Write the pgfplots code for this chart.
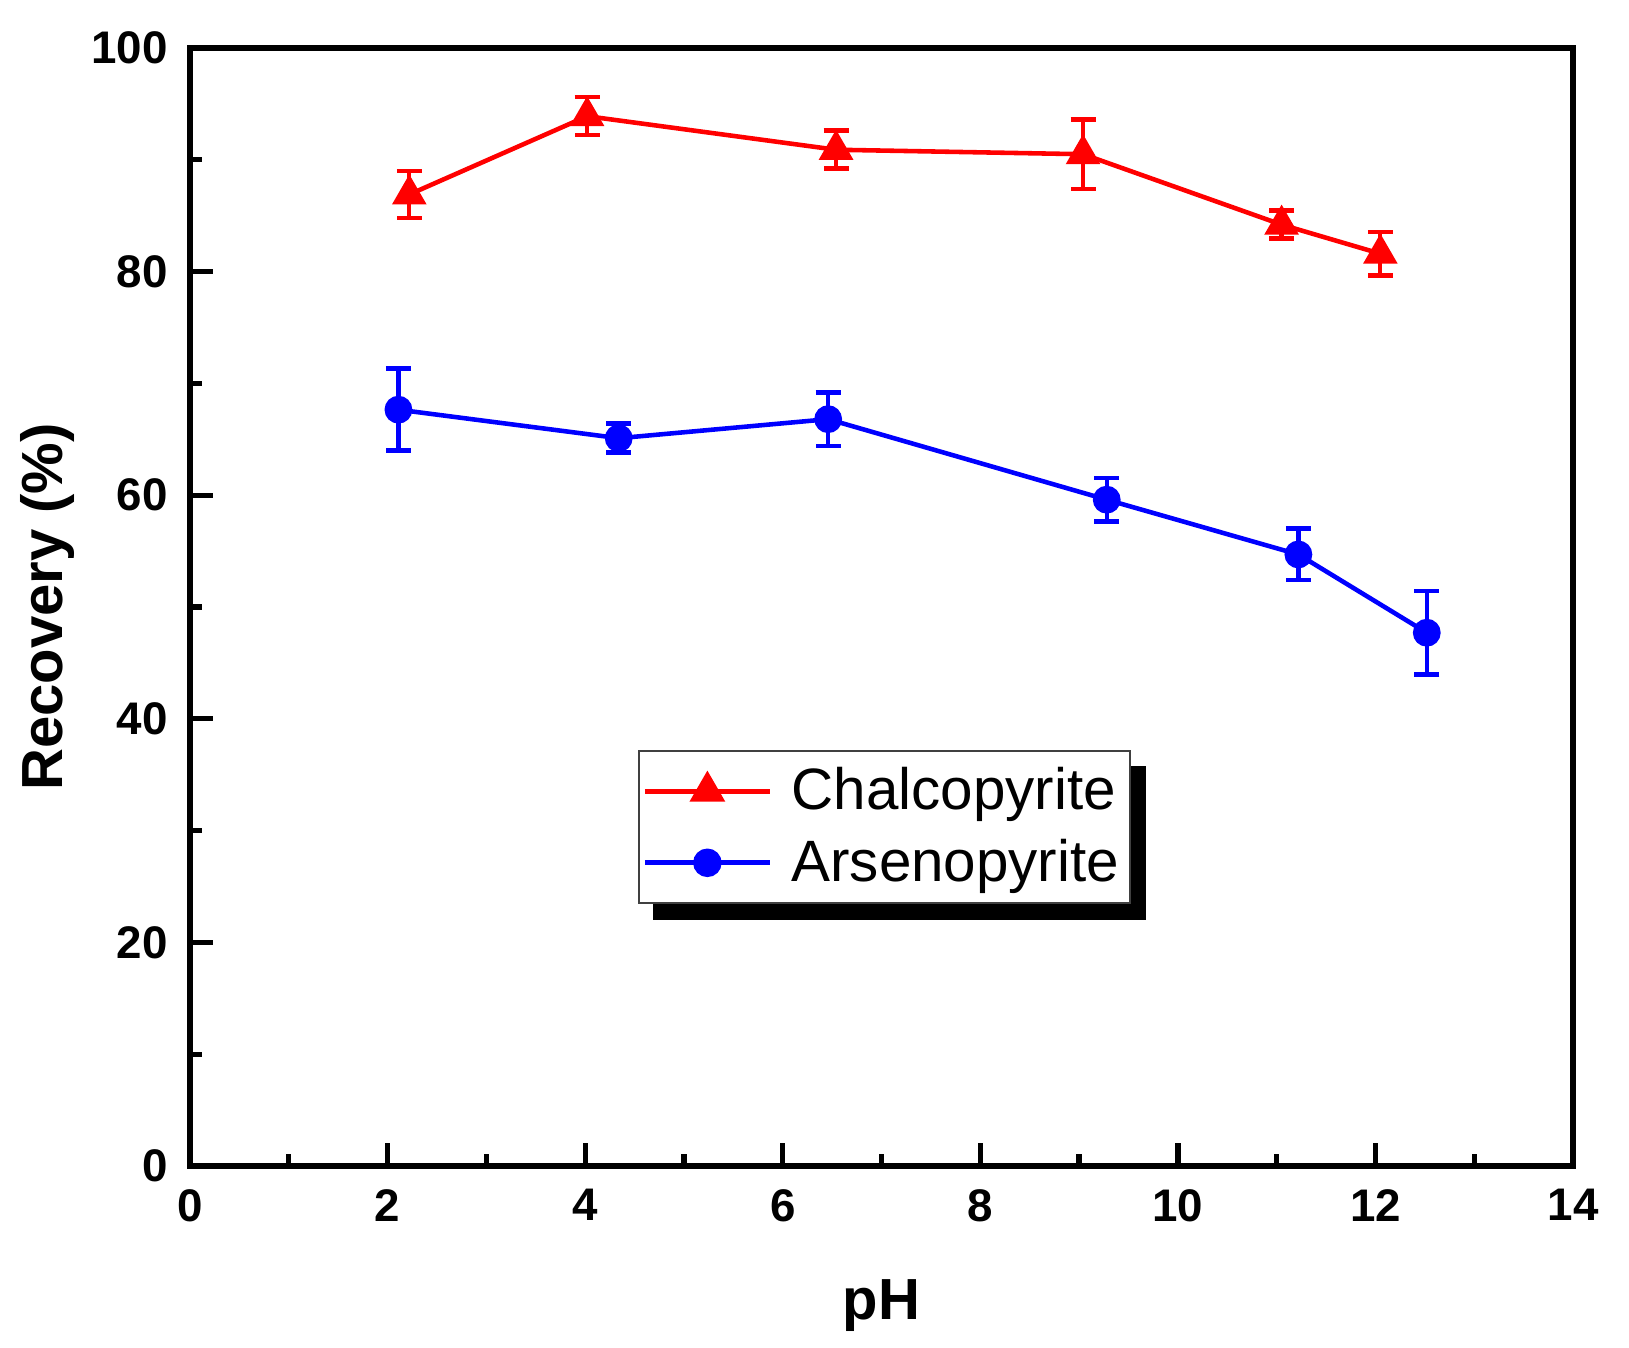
\documentclass[border=0pt]{standalone}
\usepackage{fontspec}
\setmainfont{Liberation Sans}
\usepackage{pgfplots}
\usepackage{pgfplotstable}
\pgfplotsset{compat=1.18}
\pgfdeclarelayer{background}
\pgfsetlayers{background,main}

\pgfplotstableread{
x y e
2.22 86.9 2.1
4.02 93.9 1.7
6.54 90.9 1.7
9.04 90.5 3.1
11.05 84.2 1.25
12.05 81.6 1.95
}\chalco

\pgfplotstableread{
x y e
2.11 67.65 3.67
4.34 65.1 1.3
6.46 66.8 2.4
9.28 59.6 1.95
11.22 54.7 2.3
12.52 47.7 3.73
}\arseno

\begin{document}
\begin{tikzpicture}
\useasboundingbox (-1.90,-1.81) rectangle (14.39,11.66);
\begin{axis}[
  at={(0,0)}, anchor=south west,
  scale only axis, width=13.83cm, height=11.18cm,
  xmin=0, xmax=14, ymin=0, ymax=100,
  xtick={0,2,...,14}, ytick={0,20,...,100},
  minor x tick num=1, minor y tick num=1,
  tick align=inside, tick pos=left,
  major tick length=0.23cm, minor tick length=0.12cm,
  axis line style={line width=1.7pt},
  major tick style={line width=1.5pt, black},
  minor tick style={line width=1.5pt, black},
  /pgf/number format/assume math mode=true,
  ticklabel style={font=\fontsize{13}{15}\selectfont\bfseries},
  xticklabel style={yshift=-0.11cm},
  yticklabel style={xshift=-0.1cm},
  xlabel={pH}, ylabel={Recovery (\%)},
  label style={font=\fontsize{16.5}{19}\selectfont\bfseries},
  xlabel style={at={(axis description cs:0.5,-0.1377)}, anchor=base},
  ylabel style={at={(axis description cs:-0.1027,0.5)}, anchor=center},
  legend style={at={(axis description cs:0.3237,0.3721)}, anchor=north west,
    name=leg,
    draw=black!75, line width=0.6pt, fill=white,
    font=\fontsize{16.6}{19}\selectfont,
    inner xsep=1pt, inner ysep=2.7pt, row sep=2.8pt},
  legend cell align=left,
  legend image code/.code={\draw[mark repeat=2, mark phase=2, #1, line width=1.5pt] plot coordinates {(0cm,0cm) (0.625cm,0cm) (1.25cm,0cm)};},
]
\addplot[red, line width=1.3pt, mark=triangle*, mark size=4.4pt, mark options={solid},
  error bars/.cd, y dir=both, y explicit,
  error bar style={line width=1.2pt},
  error mark options={rotate=90, mark size=0.125cm, line width=1.3pt}]
  table[x=x, y=y, y error=e] {\chalco};
\addlegendentry{\hspace{0.12cm}Chalcopyrite}
\addplot[blue, line width=1.3pt, mark=*, mark size=3.3pt, mark options={solid},
  error bars/.cd, y dir=both, y explicit,
  error bar style={line width=1.2pt},
  error mark options={rotate=90, mark size=0.125cm, line width=1.3pt}]
  table[x=x, y=y, y error=e] {\arseno};
\addlegendentry{\hspace{0.12cm}Arsenopyrite}
\end{axis}
\begin{pgfonlayer}{background}
\fill[black] ([xshift=0.15cm,yshift=-0.16cm]leg.south west) rectangle ([xshift=0.15cm,yshift=-0.16cm]leg.north east);
\end{pgfonlayer}
\end{tikzpicture}
\end{document}
